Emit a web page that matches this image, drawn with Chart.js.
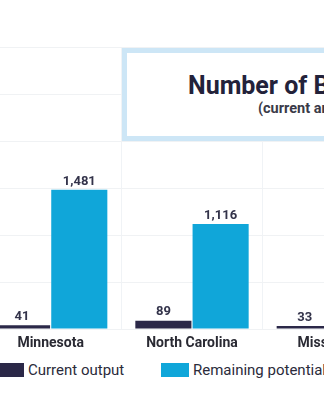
<!DOCTYPE html>
<html>
<head>
<meta charset="utf-8">
<script src="https://cdn.jsdelivr.net/npm/chart.js@4.4.1/dist/chart.umd.min.js"></script>
<style>
  html, body { margin: 0; padding: 0; background: #fff; }
  body { width: 324px; height: 400px; overflow: hidden; position: relative; font-family: Roboto, sans-serif; }
  #wrap { position: absolute; left: -20px; top: 0; width: 424px; height: 359px; }
  #title-box {
    position: absolute; left: 122px; top: 48px; width: 420px; height: 83px;
    border: 5px solid #cde6f6; background: #fff;
  }
  #title-box .main { position: absolute; left: 61px; top: 18px; font-size: 25px; font-weight: 700; color: #23223a; white-space: nowrap; }
  #title-box .sub { position: absolute; left: 131px; top: 47px; font-size: 14.5px; font-weight: 700; color: #3a3a48; white-space: nowrap; }
  .legend-item { position: absolute; top: 363px; height: 15px; white-space: nowrap; }
  .legend-item .box { position: absolute; left: 0; top: 0; width: 28px; height: 14px; }
  .legend-item .txt { position: absolute; left: 32px; top: -2px; font-size: 15px; color: #2b2b3b; }
</style>
</head>
<body>
<div id="wrap"><canvas id="chart" width="424" height="359"></canvas></div>
<div id="title-box">
  <div class="main">Number of Biogas Systems</div>
  <div class="sub">(current and potential)</div>
</div>
<div id="legend"></div>
<script>
// states shown and the two series
var states = ['Minnesota', 'North Carolina', 'Mississippi'];
var currentOutput = [41, 89, 33];
var remainingPotential = [1481, 1116, null];
var yTicks = [0, 500, 1000, 1500, 2000, 2500, 3000];

var darkColor = '#2b2848';
var blueColor = '#10a6d9';

// numbers printed above each bar
var valueLabels = {
  id: 'valueLabels',
  afterDatasetsDraw: function (chart) {
    var ctx = chart.ctx;
    ctx.save();
    ctx.font = '700 13px Roboto';
    ctx.fillStyle = '#33334a';
    ctx.textAlign = 'center';
    ctx.textBaseline = 'bottom';
    chart.data.datasets.forEach(function (ds, i) {
      chart.getDatasetMeta(i).data.forEach(function (bar, j) {
        var v = ds.data[j];
        if (v == null) return;
        ctx.fillText(v.toLocaleString('en-US'), bar.x, bar.y - 2);
      });
    });
    ctx.restore();
  }
};

var chart = new Chart(document.getElementById('chart'), {
  type: 'bar',
  data: {
    labels: states,
    datasets: [
      { label: 'Current output', data: currentOutput, backgroundColor: darkColor },
      { label: 'Remaining potential', data: remainingPotential, backgroundColor: blueColor }
    ]
  },
  options: {
    responsive: false,
    animation: false,
    layout: { padding: { top: 47, left: 0, right: 0, bottom: 0 } },
    datasets: { bar: { categoryPercentage: 0.81, barPercentage: 0.98 } },
    plugins: { legend: { display: false }, tooltip: { enabled: false } },
    scales: {
      x: {
        grid: { offset: true, color: '#f0f3f6', drawTicks: false },
        border: { display: false },
        ticks: { padding: 6, color: '#2a2a33', font: { family: 'Roboto', size: 14, weight: '700' } },
        afterFit: function (scale) { scale.height = 30; }
      },
      y: {
        min: 0,
        max: 3000,
        afterBuildTicks: function (scale) { scale.ticks = yTicks.map(function (v) { return { value: v }; }); },
        grid: { color: '#f0f2f4', drawTicks: false },
        border: { display: true, color: '#e6eaee' },
        ticks: { display: false },
        afterFit: function (scale) { scale.width = 0; }
      }
    }
  },
  plugins: [valueLabels]
});

// legend built from the dataset colours
var legendPos = [-4, 161];
var legend = document.getElementById('legend');
chart.data.datasets.forEach(function (ds, i) {
  var item = document.createElement('div');
  item.className = 'legend-item';
  item.style.left = legendPos[i] + 'px';
  item.innerHTML = '<span class="box" style="background:' + ds.backgroundColor + '"></span><span class="txt">' + ds.label + '</span>';
  legend.appendChild(item);
});
</script>
</body>
</html>
